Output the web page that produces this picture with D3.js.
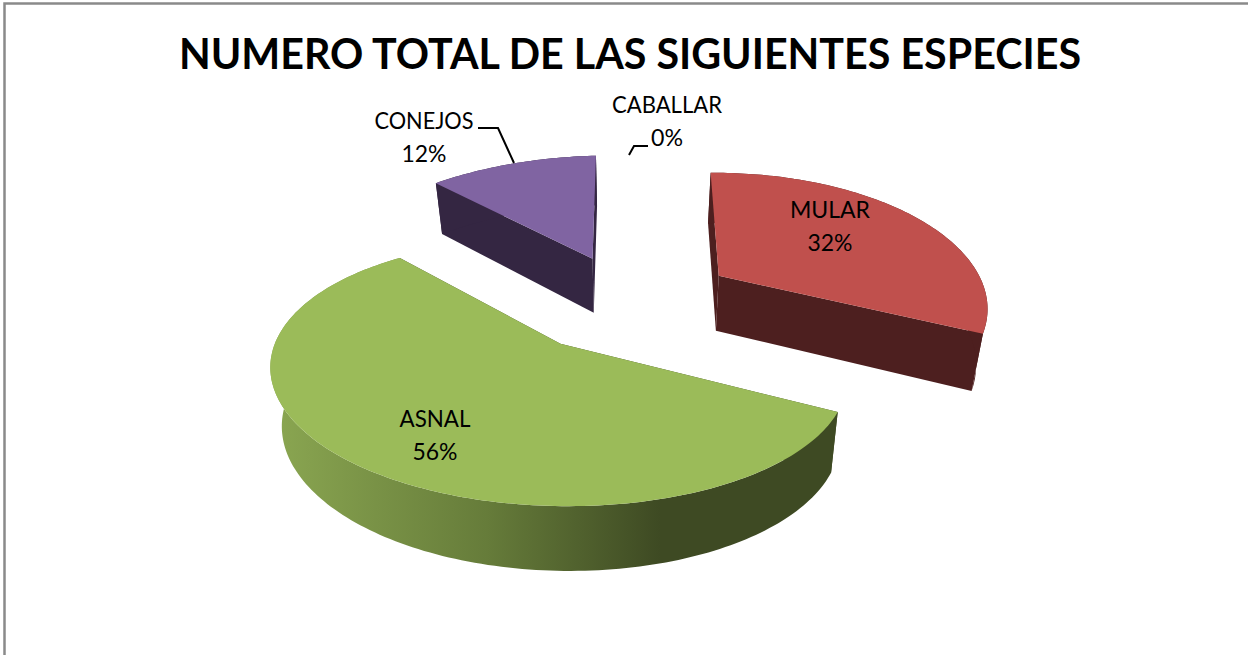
<!DOCTYPE html>
<html>
<head>
<meta charset="utf-8">
<script src="https://cdn.jsdelivr.net/npm/d3@7"></script>
<style>
html,body{margin:0;padding:0;background:#fff;overflow:hidden}
svg{display:block}
text{font-family:Lato,"Open Sans",sans-serif;fill:#000}
</style>
</head>
<body>
<svg id="c" width="1248" height="655"></svg>
<script>
const titleText = "NUMERO TOTAL DE LAS SIGUIENTES ESPECIES";
const categories = ["MULAR","ASNAL","CONEJOS","CABALLAR"];
const values = [32,56,12,0];
const topColors = ["#c0504d","#9bbb59","#8064a2","#9bbb59"];
const wallColors = ["#4d1f1f","url(#asnalWall)","#342642","#3e4a23"];
const labelX = [830,435,424,667];
const labelY = [218,427,129,113];
const labelW = [80,71,99,110];
const pctW = [45,45,45,32];

const svg=d3.select("#c");
const defs=svg.append("defs");
const g=defs.append("linearGradient").attr("id","asnalWall").attr("gradientUnits","userSpaceOnUse")
  .attr("x1",275).attr("x2",660).attr("y1",0).attr("y2",0);
g.append("stop").attr("offset",0).attr("stop-color","#8aa651");
g.append("stop").attr("offset",0.55).attr("stop-color","#667c3a");
g.append("stop").attr("offset",1).attr("stop-color","#3e4a23");

// frame
svg.append("path").attr("d",`M4.5,655V3.5H1248`).attr("fill","none").attr("stroke","#8a8a8a").attr("stroke-width",2.5);

// title
svg.append("text").attr("x",630).attr("y",69).attr("text-anchor","middle")
  .attr("font-size",42).attr("font-weight",700)
  .attr("textLength",902).attr("lengthAdjust","spacingAndGlyphs").text(titleText);

// 3D projection of the pie plane
const Cx=630,Cy=301,A=126,persp=0.223,explode=0.39,converge=0.5;
const zx=0.968,zy=1.043,zb=43;
const stretch=Y=>1/(1+persp*Y);
const lower=([x,y])=>[Cx+(x-Cx)*zx,y*zy+zb];

const pie=d3.pie().sort(null).value(d=>d).startAngle(0).endAngle(2*Math.PI);
const arcs=pie(values);
const line=d3.line();

// paint back to front
const order=[2,0,1];
order.forEach(i=>{
  const a=arcs[i];
  const mid=(a.startAngle+a.endAngle)/2;
  const ox=Math.sin(mid)*explode, oy=Math.cos(mid)*explode;
  const os=stretch(oy);
  const apex=[Cx+282*ox*os,Cy-A*oy*os];
  const bs=271-27*ox-12*oy;   // apparent width shrinks to the right and far side
  const skew=3-22*oy;         // apparent roll of the plane
  const n=Math.max(2,Math.ceil((a.endAngle-a.startAngle)/0.02));
  const rim=d3.range(n+1).map(k=>{
    const t=a.startAngle+(a.endAngle-a.startAngle)*k/n;
    const X=Math.sin(t),Y=Math.cos(t),s=stretch(Y);
    return [apex[0]+bs*X*s+converge*(apex[0]-Cx)*(s-1),apex[1]-A*Y*s+skew*X];
  });
  const grp=svg.append("g").attr("class","slice");
  // radial faces
  [rim[0],rim[n]].forEach(p=>{
    grp.append("path").attr("d",line([apex,p,lower(p),lower(apex)])+"Z")
      .attr("fill",i===1?"#3e4a23":wallColors[i]);
  });
  // outer wall
  grp.append("path").attr("d",line(rim.concat(rim.map(lower).reverse()))+"Z").attr("fill",wallColors[i]);
  // top
  grp.append("path").attr("d",line([apex].concat(rim))+"Z").attr("fill",topColors[i]);
});

// leader lines
const leaders=[[[478,128],[498,128],[514,163]],[[629,155],[634,146],[648,146]]];
leaders.forEach(l=>svg.append("path").attr("d",line(l)).attr("fill","none").attr("stroke","#000").attr("stroke-width",2));

// labels
categories.forEach((c,i)=>{
  const t=svg.append("g");
  t.append("text").attr("x",labelX[i]).attr("y",labelY[i]).attr("text-anchor","middle").attr("font-size",24)
    .attr("textLength",labelW[i]).attr("lengthAdjust","spacingAndGlyphs").text(c);
  t.append("text").attr("x",labelX[i]).attr("y",labelY[i]+32.5).attr("text-anchor","middle").attr("font-size",24)
    .attr("textLength",pctW[i]).attr("lengthAdjust","spacingAndGlyphs").text(d3.format(".0%")(values[i]/d3.sum(values)));
});
</script>
</body>
</html>
